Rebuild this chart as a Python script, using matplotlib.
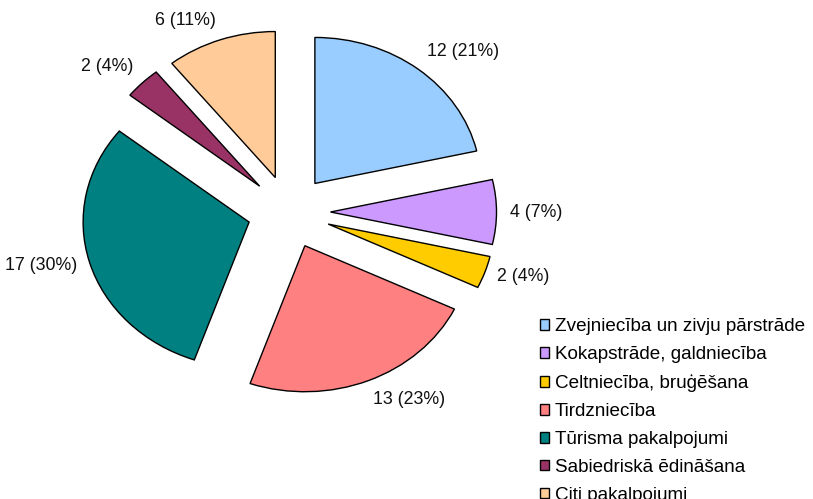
import numpy as np
import matplotlib
matplotlib.use("Agg")
from matplotlib import pyplot as plt

# data
categories = ["Zvejniecība un zivju pārstrāde", "Kokapstrāde, galdniecība",
              "Celtniecība, bruģēšana", "Tirdzniecība", "Tūrisma pakalpojumi",
              "Sabiedriskā ēdināšana", "Citi pakalpojumi"]
values = [12, 4, 2, 13, 17, 2, 6]
colors = ["#99CCFF", "#CC99FF", "#FFCC00", "#FF8080", "#008080", "#993366", "#FFCC99"]

total = sum(values)
labels = ["%d (%d%%)" % (v, round(v * 100.0 / total)) for v in values]

plt.rcParams['font.family'] = ['Liberation Sans', 'DejaVu Sans']

fig = plt.figure(figsize=(8.13, 4.99), dpi=100)
ax = fig.add_axes([0, 0, 1, 1])

wedges, texts = ax.pie(values, labels=labels, colors=colors, explode=[0.25] * len(values),
                       startangle=90, counterclock=False, labeldistance=1.08,
                       wedgeprops=dict(edgecolor='black', linewidth=1.0),
                       textprops=dict(fontsize=12.8, color='#111111'))

# Excel-like label anchoring
for w, t in zip(wedges, texts):
    ang = np.deg2rad((w.theta1 + w.theta2) / 2.0)
    s = np.sin(ang)
    if s > 0.5:
        t.set_va('bottom')
    elif s < -0.5:
        t.set_va('top')
    else:
        t.set_va('center')

# stretched pie: centre at (289, 212) px, radii 166 x 146 px
ax.set_aspect('auto')
ax.set_xlim(-289 / 166.0, (813 - 289) / 166.0)
ax.set_ylim(-(499 - 212) / 146.0, 212 / 146.0)
ax.axis('off')

fig.legend(wedges, categories, loc='upper left', bbox_to_anchor=(540 / 813.0, 1 - 318 / 499.0),
           frameon=False, fontsize=13.6, handlelength=0.5, handleheight=0.5,
           handletextpad=0.3, labelspacing=0.58, borderpad=0, borderaxespad=0)

plt.savefig("out.png", dpi=100)
